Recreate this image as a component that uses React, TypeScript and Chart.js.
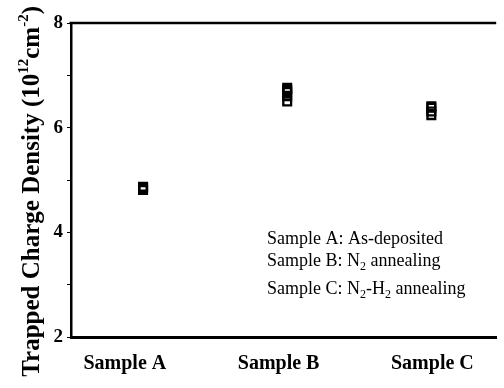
import React, { useEffect, useRef } from "react";
import { Chart, registerables } from "chart.js";

Chart.register(...registerables);

// ---- data ----
const categories = ["Sample A", "Sample B", "Sample C"];
const sampleAValues = [4.87, 4.85, 4.81];
const sampleBValues = [6.76, 6.72, 6.68, 6.6, 6.5];
const sampleCValues = [6.41, 6.38, 6.31, 6.24];
const yTickValues = [2, 3, 4, 5, 6, 7, 8];
const yLabelValues = [2, 4, 6, 8];

type Run = { t: string; sup?: boolean; sub?: boolean };
const yTitleRuns: Run[] = [
  { t: "Trapped Charge Density (10" },
  { t: "12", sup: true },
  { t: "cm" },
  { t: "-2", sup: true },
  { t: ")" },
];
const noteLines: Run[][] = [
  [{ t: "Sample A: As-deposited" }],
  [{ t: "Sample B: N" }, { t: "2", sub: true }, { t: " annealing" }],
  [{ t: "Sample C: N" }, { t: "2", sub: true }, { t: "-H" }, { t: "2", sub: true }, { t: " annealing" }],
];

const SERIF = '"Liberation Serif", "Times New Roman", serif';

function runsWidth(ctx: CanvasRenderingContext2D, runs: Run[], big: string, small: string) {
  let w = 0;
  for (const r of runs) {
    ctx.font = r.sup || r.sub ? small : big;
    w += ctx.measureText(r.t).width;
  }
  return w;
}

function drawRuns(
  ctx: CanvasRenderingContext2D,
  runs: Run[],
  x: number,
  y: number,
  big: string,
  small: string,
  supShift: number,
  subShift: number
) {
  let cx = x;
  for (const r of runs) {
    ctx.font = r.sup || r.sub ? small : big;
    const dy = r.sup ? -supShift : r.sub ? subShift : 0;
    ctx.fillText(r.t, cx, y + dy);
    cx += ctx.measureText(r.t).width;
  }
}

const decorPlugin = {
  id: "decor",
  afterDraw(chart: any) {
    const { ctx, chartArea } = chart;
    ctx.save();
    // top frame line
    ctx.strokeStyle = "#000";
    ctx.lineWidth = 2.5;
    ctx.beginPath();
    ctx.moveTo(chartArea.left - 1.5, chartArea.top);
    ctx.lineTo(chartArea.right, chartArea.top);
    ctx.stroke();

    ctx.fillStyle = "#000";
    ctx.textBaseline = "alphabetic";
    ctx.textAlign = "left";

    // y-axis title (rotated, with superscripts)
    const bigT = `bold 25px ${SERIF}`;
    const smallT = `bold 15px ${SERIF}`;
    const tw = runsWidth(ctx, yTitleRuns, bigT, smallT);
    ctx.save();
    ctx.translate(39, 6 + tw);
    ctx.rotate(-Math.PI / 2);
    drawRuns(ctx, yTitleRuns, 0, 0, bigT, smallT, 11, 0);
    ctx.restore();

    // annotation text
    const bigN = `18px ${SERIF}`;
    const smallN = `12px ${SERIF}`;
    const lineY = [244, 266, 294];
    noteLines.forEach((line, i) => {
      drawRuns(ctx, line, 267, lineY[i], bigN, smallN, 0, 4);
    });
    ctx.restore();
  },
};

export default function App() {
  const canvasRef = useRef<HTMLCanvasElement | null>(null);

  useEffect(() => {
    if (!canvasRef.current) return;
    const toPoints = (vals: number[], idx: number) => vals.map((v) => ({ x: idx, y: v }));
    const pointStyle = {
      showLine: false,
      pointStyle: "rect" as const,
      pointRadius: 5.5,
      pointHoverRadius: 5.5,
      pointBorderWidth: 2.3,
      pointBackgroundColor: "rgba(0,0,0,0)",
      pointBorderColor: "#000",
      xAxisID: "x",
      yAxisID: "y",
    };
    const chart = new Chart(canvasRef.current, {
      type: "scatter",
      data: {
        datasets: [
          { label: categories[0], data: toPoints(sampleAValues, 0), ...pointStyle },
          { label: categories[1], data: toPoints(sampleBValues, 1), ...pointStyle },
          { label: categories[2], data: toPoints(sampleCValues, 2), ...pointStyle },
        ],
      },
      options: {
        animation: false,
        responsive: false,
        maintainAspectRatio: false,
        layout: { padding: { top: 23, right: 0, bottom: 0, left: 0 } },
        plugins: { legend: { display: false }, tooltip: { enabled: false } },
        scales: {
          x: { type: "linear", display: false, min: -0.5, max: 2.45 },
          xl: {
            type: "linear",
            position: "bottom",
            min: -0.35,
            max: 2.415,
            afterBuildTicks: (s: any) => {
              s.ticks = categories.map((_, i) => ({ value: i }));
            },
            afterFit: (s: any) => {
              s.height = 51;
            },
            ticks: {
              callback: (v: any) => categories[v as number] ?? "",
              font: { family: SERIF, size: 20, weight: "bold" },
              color: "#000",
              padding: 15,
              maxRotation: 0,
              autoSkip: false,
            },
            grid: { display: false, drawTicks: false },
            border: { display: true, color: "#000", width: 3 },
          },
          y: {
            type: "linear",
            min: 2,
            max: 8,
            afterBuildTicks: (s: any) => {
              s.ticks = yTickValues.map((v) => ({ value: v }));
            },
            afterFit: (s: any) => {
              s.width = 71;
            },
            ticks: {
              callback: (v: any) => (yLabelValues.includes(v as number) ? String(v) : ""),
              font: { family: SERIF, size: 19, weight: "bold" },
              color: "#000",
              padding: 4,
            },
            grid: { drawOnChartArea: false, drawTicks: true, tickLength: 4, color: "#000", lineWidth: 1 },
            border: { display: true, color: "#000", width: 2.5 },
          },
        },
      } as any,
      plugins: [decorPlugin],
    });
    return () => chart.destroy();
  }, []);

  return (
    <div style={{ position: "fixed", left: 0, top: 0, width: 504, height: 388, background: "#fff" }}>
      <canvas ref={canvasRef} width={504} height={388} style={{ display: "block", width: 504, height: 388 }} />
    </div>
  );
}
